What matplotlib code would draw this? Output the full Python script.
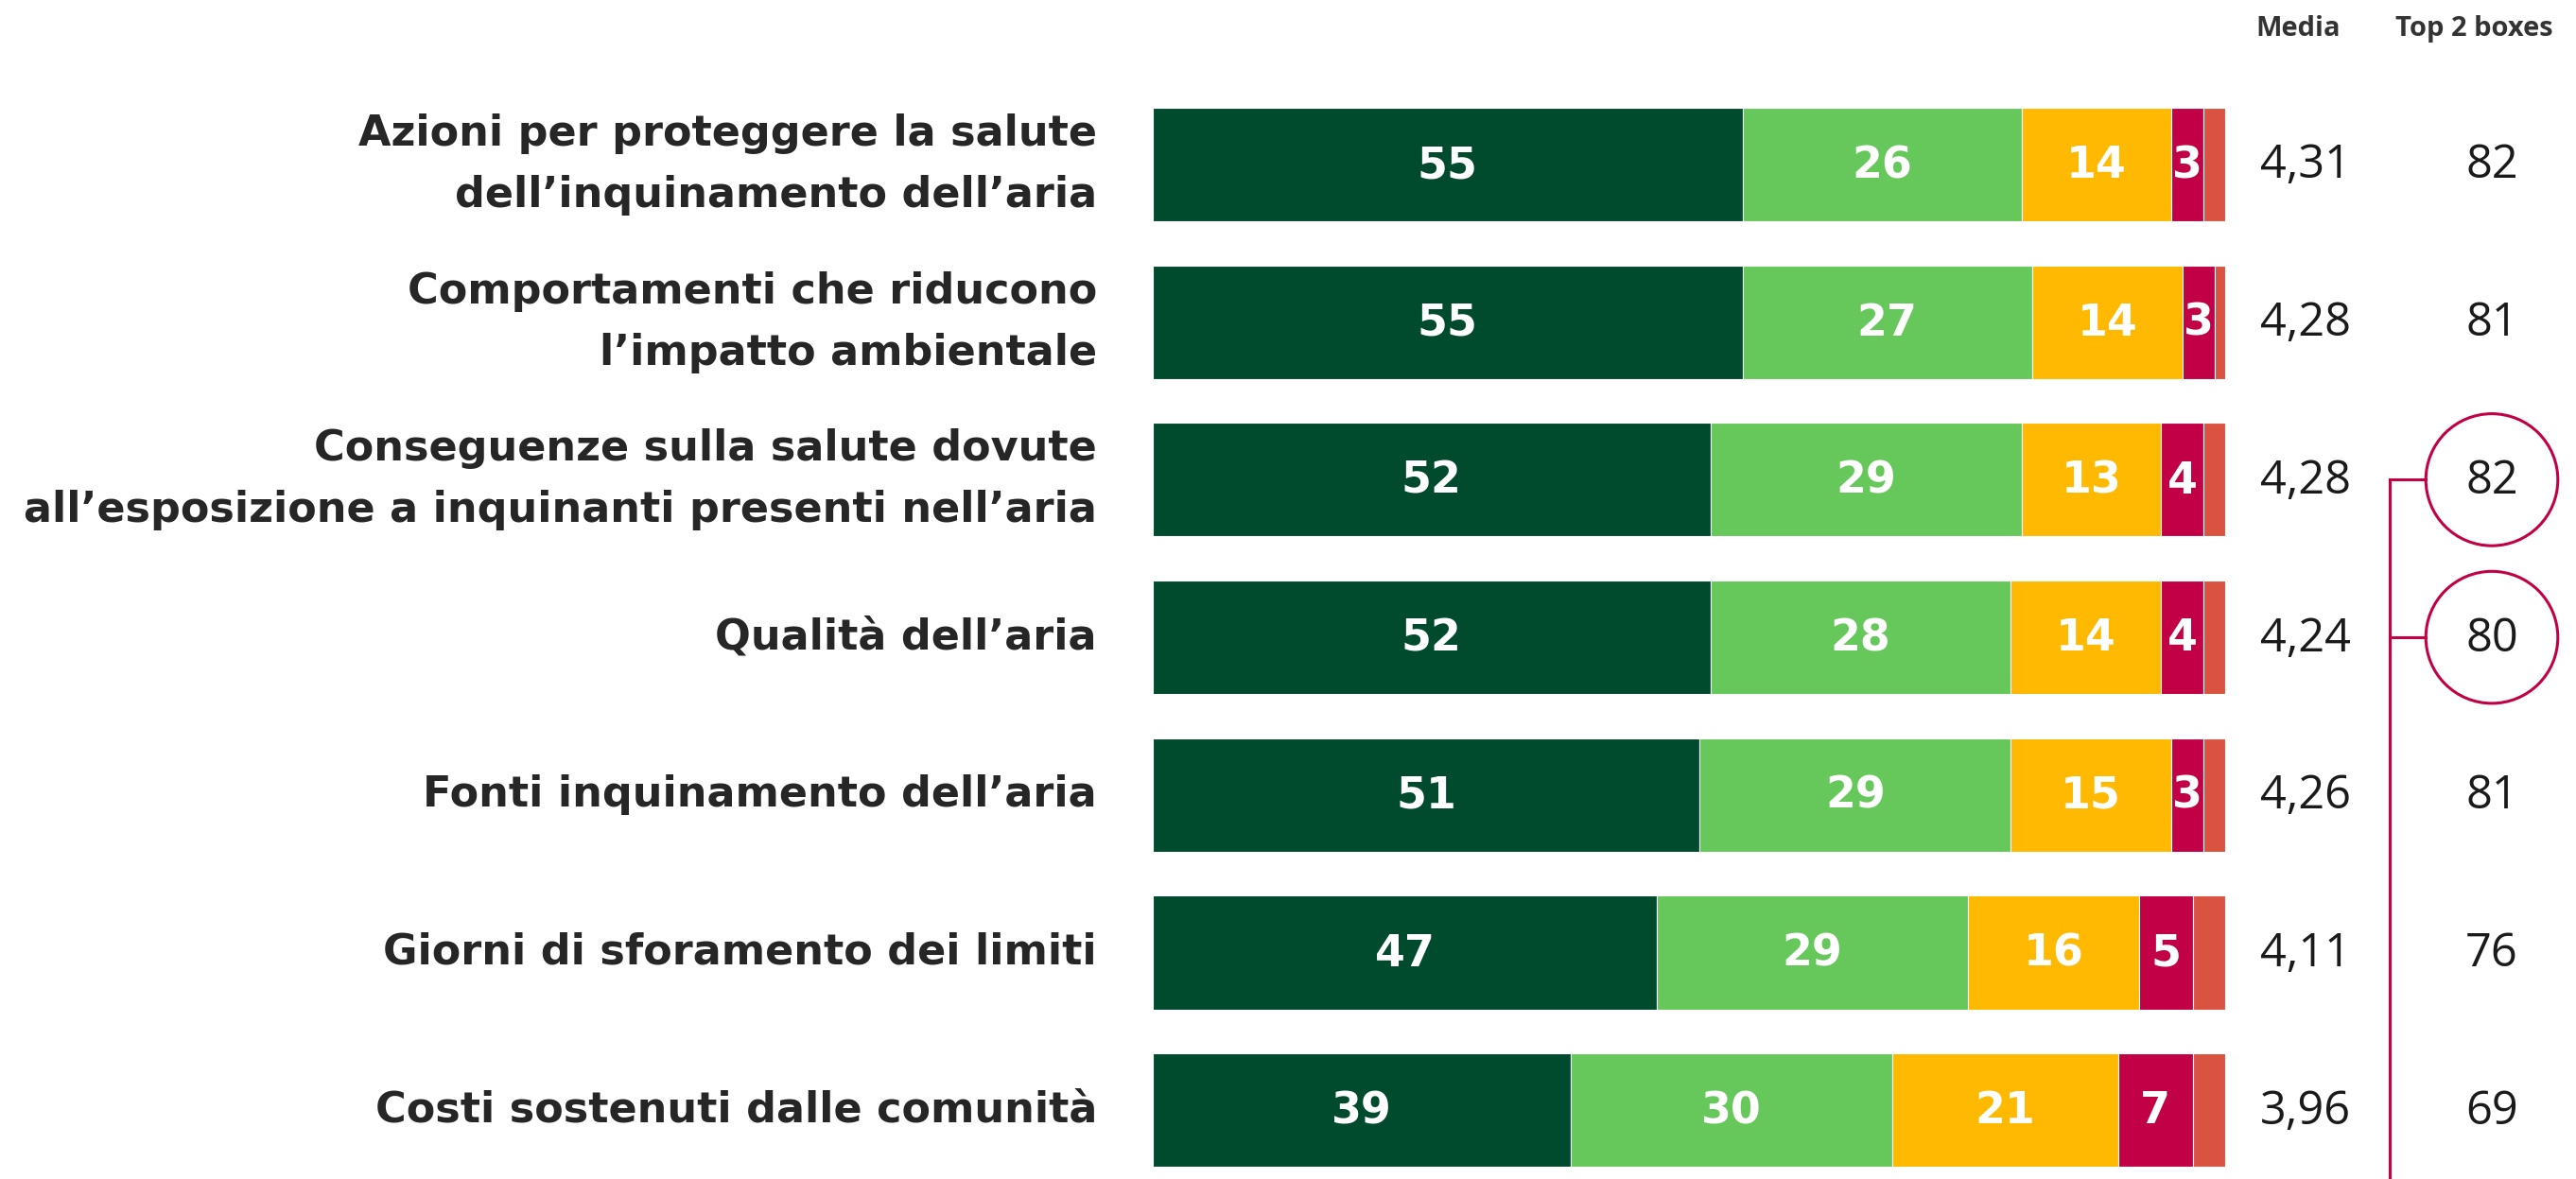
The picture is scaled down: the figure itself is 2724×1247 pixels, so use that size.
import matplotlib
matplotlib.use("Agg")
import matplotlib.pyplot as plt

categories = [
    "Azioni per proteggere la salute\ndell\u2019inquinamento dell\u2019aria",
    "Comportamenti che riducono\nl\u2019impatto ambientale",
    "Conseguenze sulla salute dovute\nall\u2019esposizione a inquinanti presenti nell\u2019aria",
    "Qualit\u00e0 dell\u2019aria",
    "Fonti inquinamento dell\u2019aria",
    "Giorni di sforamento dei limiti",
    "Costi sostenuti dalle comunit\u00e0",
]
seg1 = [55, 55, 52, 52, 51, 47, 39]
seg2 = [26, 27, 29, 28, 29, 29, 30]
seg3 = [14, 14, 13, 14, 15, 16, 21]
seg4 = [3, 3, 4, 4, 3, 5, 7]
seg5 = [2, 1, 2, 2, 2, 3, 3]
media = ["4,31", "4,28", "4,28", "4,24", "4,26", "4,11", "3,96"]
top2 = [82, 81, 82, 80, 81, 76, 69]
highlight = [False, False, True, True, False, False, False]

colors = ["#004B2D", "#66C85A", "#FFB900", "#C20045", "#D95340"]
FONT = ["Open Sans", "DejaVu Sans"]
LABEL_FONT = ["DejaVu Sans"]
plt.rcParams["font.family"] = FONT

W, H = 2724, 1247
fig = plt.figure(figsize=(W / 100, H / 100), dpi=100)
ax = fig.add_axes([0, 0, 1, 1])

# pixel mapping: x=0 at 1219px, x=100 at 2353px; row centres 174px + i*166.7px
x0px, x100px = 1219, 2353
ppu = (x100px - x0px) / 100
ax.set_xlim(-x0px / ppu, (W - x0px) / ppu)
y0px, pitch = 174, 166.7
ax.set_ylim((H - y0px) / pitch, -y0px / pitch)
ax.axis("off")

def px2x(px):
    return (px - x0px) / ppu

n = len(categories)
rows = list(range(n))
left = [0] * n
segs = [seg1, seg2, seg3, seg4, seg5]
for k, seg in enumerate(segs):
    ax.barh(rows, seg, left=left, height=0.72, color=colors[k],
            edgecolor="white", linewidth=0.8)
    if k < 4:
        for i in rows:
            ax.text(left[i] + seg[i] / 2, i + 0.01, str(seg[i]), ha="center", va="center",
                    color="white", fontsize=33, fontweight="bold", family=LABEL_FONT)
    left = [l + s for l, s in zip(left, seg)]

for i, c in enumerate(categories):
    ax.text(px2x(1160), i, c, ha="right", va="center", fontsize=32,
            family=LABEL_FONT, fontweight="bold", color="#262626", linespacing=1.65)
    ax.text(px2x(2438), i + 0.01, media[i], ha="center", va="center", fontsize=35,
            color="#1a1a1a")
    ax.text(px2x(2635), i + 0.01, str(top2[i]), ha="center", va="center", fontsize=35,
            color="#1a1a1a")

# header
ax.text(px2x(2430), -0.86, "Media", ha="center", va="center", fontsize=21,
        fontweight="bold", color="#333333")
ax.text(px2x(2616), -0.86, "Top 2 boxes", ha="center", va="center", fontsize=21,
        fontweight="bold", color="#333333")

# highlight circles and connector
hi_rows = [i for i in rows if highlight[i]]
ax.scatter([px2x(2635)] * len(hi_rows), hi_rows, s=10100, facecolors="none",
           edgecolors="#C20045", linewidths=2.2, zorder=3)
ax.plot([px2x(2527), px2x(2527)], [hi_rows[0], (H - y0px) / pitch + 0.1],
        color="#C20045", lw=2.2, solid_capstyle="butt")
for r in hi_rows:
    ax.plot([px2x(2527), px2x(2565)], [r, r], color="#C20045", lw=2.2)

fig.savefig("out.png", dpi=100)
